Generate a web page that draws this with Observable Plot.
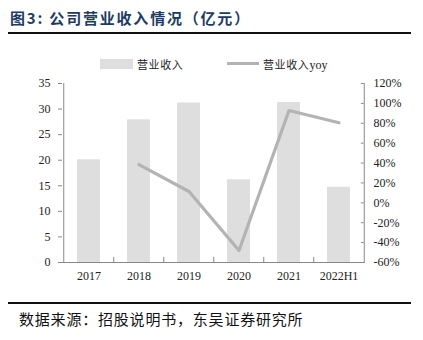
<!DOCTYPE html>
<html>
<head>
<meta charset="utf-8">
<script src="https://cdn.jsdelivr.net/npm/d3@7"></script>
<script src="https://cdn.jsdelivr.net/npm/@observablehq/plot@0.6"></script>
<style>
  html, body { margin: 0; padding: 0; background: #fff; }
  #wrap { position: relative; width: 423px; height: 340px; overflow: hidden; font-family: "Liberation Serif", "Noto Sans CJK SC", serif; }
  .abs { position: absolute; white-space: nowrap; }
  #title { left: 10px; top: 8px; font-family: "Noto Sans CJK SC", sans-serif; font-weight: bold; font-size: 15px; letter-spacing: 1.8px; color: #1d3b63; line-height: 20px; }
  #tline { left: 8px; top: 32px; width: 403px; height: 2px; background: #111; }
  #bline { left: 8px; top: 302px; width: 403px; height: 2px; background: #111; }
  #caption { left: 19px; top: 310px; font-family: "Noto Sans CJK SC", sans-serif; font-size: 15px; letter-spacing: 0.8px; color: #111; line-height: 18px; }
  .leg { font-family: "Noto Sans CJK SC", sans-serif; font-size: 11px; letter-spacing: 0.6px; color: #222; line-height: 14px; }
  #plot { left: 0; top: 0; }
</style>
</head>
<body>
<div id="wrap">
  <div class="abs" id="title">图3:&nbsp;公司营业收入情况（亿元）</div>
  <div class="abs" id="tline"></div>
  <div class="abs" style="left:100px;top:59px;width:33px;height:10px;background:#dedede;"></div>
  <div class="abs leg" style="left:137px;top:57px;">营业收入</div>
  <div class="abs" style="left:227px;top:62px;width:32px;height:3px;background:#b3b3b3;"></div>
  <div class="abs leg" style="left:263px;top:57px;">营业收入<span style="font-family:'Liberation Serif';font-size:12px;letter-spacing:0;">yoy</span></div>
  <div class="abs" id="plot"></div>
  <div class="abs" id="bline"></div>
  <div class="abs" id="caption">数据来源：招股说明书，东吴证券研究所</div>
</div>
<script>
const years = ["2017", "2018", "2019", "2020", "2021", "2022H1"];
const revenue = [20.1, 27.9, 31.2, 16.2, 31.3, 14.7];
const yoyYears = ["2018", "2019", "2020", "2021", "2022H1"];
const yoy = [38.5, 11.4, -48, 92.8, 80.5];
const leftTicks = [0, 5, 10, 15, 20, 25, 30, 35];
const rightTicks = [-60, -40, -20, 0, 20, 40, 60, 80, 100, 120];

const yMax = 35, pMin = -60, pMax = 120;
const toY = p => (p - pMin) / (pMax - pMin) * yMax;
const fromY = y => Math.round(y / yMax * (pMax - pMin) + pMin);

const bars = years.map((y, i) => ({year: y, value: revenue[i]}));
const line = yoyYears.map((y, i) => ({year: y, v: toY(yoy[i])}));
const bounds = years.slice(1);

const W = 423, ML = 62, MR = 58;
const pad = 0.54;
const step = (W - ML - MR) / years.length;
const half = step / 2;
const bw = step * (1 - pad);

const axisColor = "#888";
const chart = Plot.plot({
  width: W,
  height: 340,
  marginTop: 83,
  marginBottom: 78,
  marginLeft: ML,
  marginRight: MR,
  style: {fontFamily: "Liberation Serif, serif", fontSize: "12px", color: "#222", background: "transparent"},
  x: {domain: years, paddingInner: pad, paddingOuter: pad / 2, label: null},
  y: {domain: [0, yMax], label: null},
  marks: [
    Plot.barY(bars, {x: "year", y: "value", fill: "#dedede", rx: 1}),
    Plot.lineY(line, {x: "year", y: "v", stroke: "#b3b3b3", strokeWidth: 3.2}),
    Plot.ruleY([0], {stroke: axisColor, strokeWidth: 1}),
    Plot.ruleX(bounds, {x: d => d, dx: -half, y1: 0, y2: 1.0, stroke: axisColor}),
    Plot.axisX({tickSize: 0, tickPadding: 9, fontSize: 12}),
    Plot.axisY(leftTicks, {anchor: "left", tickSize: 4, tickPadding: 8, stroke: axisColor, tickFormat: d => d}),
    Plot.ruleX([years[0]], {x: d => d, dx: -half, y1: 0, y2: yMax, stroke: axisColor}),
    Plot.ruleX([years[5]], {x: d => d, dx: half, y1: 0, y2: yMax, stroke: axisColor}),
    Plot.tickY(rightTicks.map(toY), {y: d => d, x: () => years[5], stroke: axisColor, insetLeft: bw / 2 + half - 3, insetRight: -(half - bw / 2)}),
    Plot.axisY(rightTicks.map(toY), {anchor: "right", tickSize: 0, tickPadding: 8, tickFormat: d => fromY(d) + "%"})
  ]
});
document.getElementById("plot").appendChild(chart);
</script>
</body>
</html>
